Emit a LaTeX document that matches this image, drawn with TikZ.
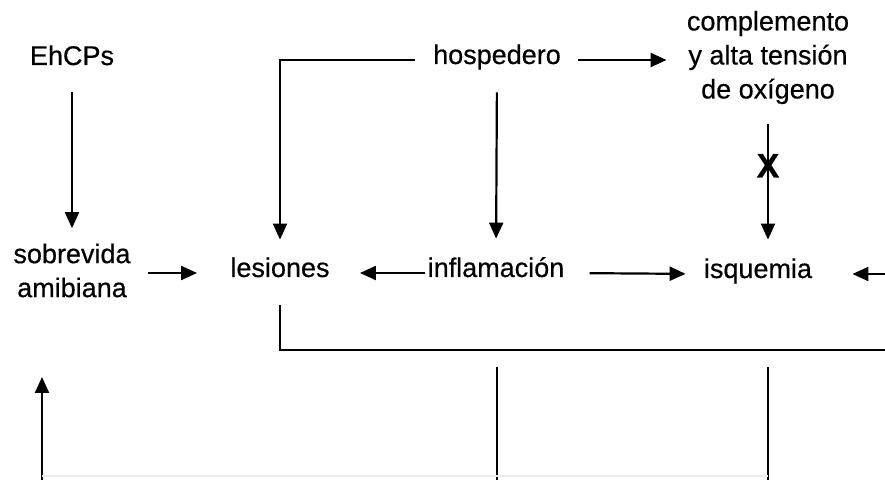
\documentclass[tikz,border=0pt]{standalone}
\usepackage{fontspec}
\setmainfont{Liberation Sans}[FakeBold=0.5]
\usetikzlibrary{arrows.meta}

\tikzset{
    concept/.style={inner sep=0pt, text height=8pt, text depth=4pt, anchor=base},
    multi/.style={inner sep=0pt, align=center},
    cross/.style={inner sep=0pt, font=\fontsize{17}{17}\selectfont\bfseries},
    arr/.style={-{Triangle[length=8pt,width=7pt]}, line width=1.1pt},
    ln/.style={line width=1.1pt},
}

\begin{document}
\begin{tikzpicture}[x=0.5pt, y=-0.5pt, font=\fontsize{13.5}{17}\selectfont]
    \useasboundingbox (0,0) rectangle (885,480);
    % Top row
    \node[concept] (EhCPs) at (72,65) {EhCPs};
    \node[concept] (Hosp) at (497,64) {hospedero};
    \node[multi] (Compl) at (768,57.5) {complemento\\y alta tensión\\de oxígeno};
    % Middle row
    \node[multi] (Sobre) at (72,270.5) {sobrevida\\amibiana};
    \node[concept] (Les) at (280,277) {lesiones};
    \node[concept] (Infl) at (496,277) {inflamación};
    \node[concept] (Isq) at (758,278) {isquemia};
    % Free ends at the edges
    \coordinate (IsqIn) at (885,274);
    \coordinate (LesOut) at (885,350);
    \foreach \i/\x/\y in {1/42/377,2/497/367,3/768/367} {
        \coordinate (Bottom-\i) at (\x,480);
        \coordinate (Top-\i) at (\x,\y);
    }
    \coordinate (Faint-L) at (42,476);
    \coordinate (Faint-R) at (768,476);
    % Arrows from the top row
    \draw[arr, shorten <=9.5pt, shorten >=7.5pt] (EhCPs.south) -- (Sobre.north);
    \draw[arr, shorten <=9pt, shorten >=10.5pt] (Hosp.west) -| (Les.north);
    \draw[arr, shorten <=10pt, shorten >=11pt] (Hosp.south) -- (Infl.north);
    \draw[arr, shorten <=8.5pt, shorten >=10pt] (Hosp.east) -- (Hosp.east -| Compl.west);
    \draw[arr, shorten <=10pt, shorten >=11pt] (Compl.south)
        -- node[cross, pos=0.39] (Block) {X} (Compl.south |- Isq.north);
    % Arrows in the middle row
    \draw[arr, shorten <=8.5pt, shorten >=16.5pt] (Sobre.east |- Les.west) -- (Les.west);
    \draw[arr, shorten <=1pt, shorten >=15pt] (Infl.west) -- (Les.east);
    \draw[arr, shorten <=12.5pt, shorten >=9pt] (Infl.east) -- (Isq.west);
    \draw[arr, shorten >=20pt] (IsqIn) -- (Isq.east);
    \draw[ln, shorten <=10pt] (Les.south) |- (LesOut);
    % Lines from below
    \draw[arr] (Bottom-1) -- (Top-1);
    \foreach \i in {2,3} {
        \draw[ln] (Bottom-\i) -- (Top-\i);
    }
    \draw[black!8, line width=0.6pt] (Faint-L) -- (Faint-R);
\end{tikzpicture}
\end{document}
